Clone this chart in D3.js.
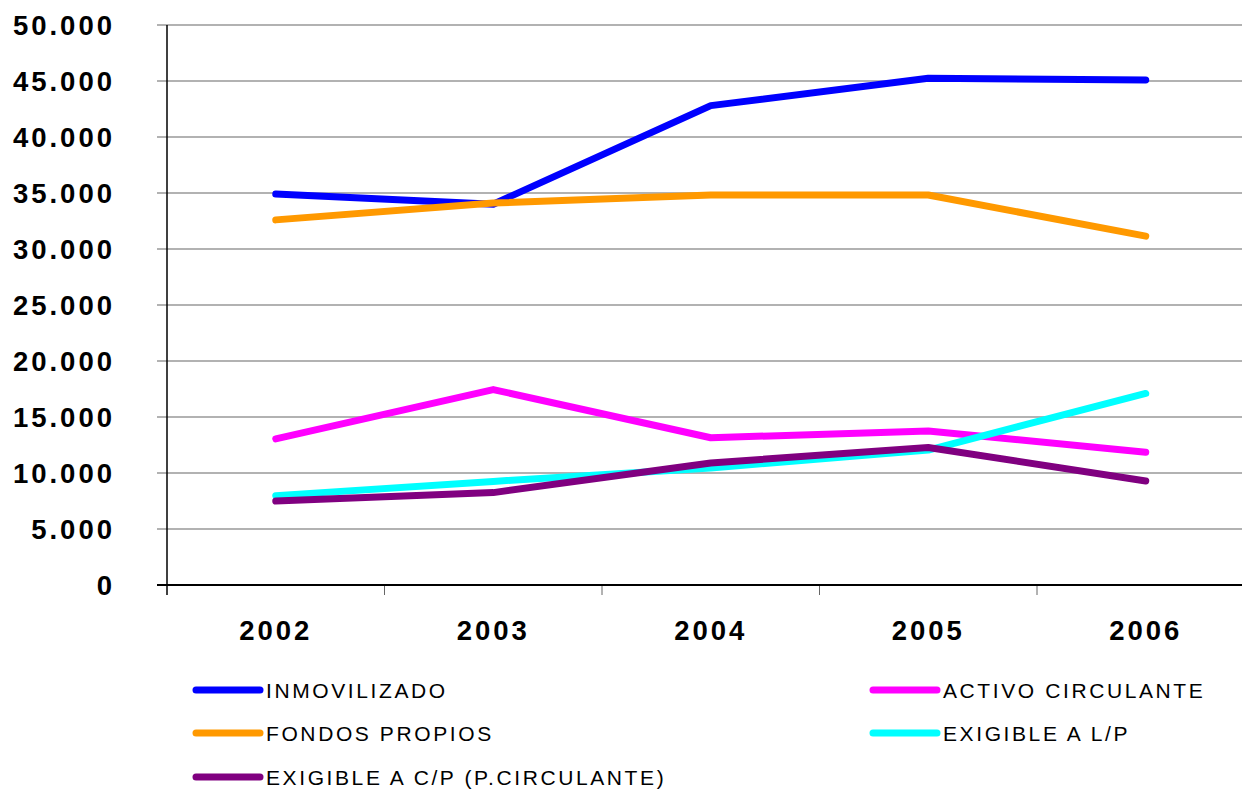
<!DOCTYPE html>
<html>
<head>
<meta charset="utf-8">
<script src="https://cdn.jsdelivr.net/npm/d3@7"></script>
<style>
  html, body { margin: 0; padding: 0; background: #fff; }
  svg { display: block; }
</style>
</head>
<body>
<svg id="chart" width="1242" height="792"></svg>
<script>
// Years on the category axis
const years = ["2002", "2003", "2004", "2005", "2006"];

// Balance sheet magnitudes per year
const inmovilizado     = [34900, 34000, 42800, 45250, 45100];
const activoCirculante = [13050, 17450, 13150, 13750, 11850];
const fondosPropios    = [32600, 34100, 34820, 34820, 31150];
const exigibleLP       = [7980, 9250, 10450, 12050, 17100];
const exigibleCP       = [7500, 8250, 10900, 12280, 9290];

const seriesNames  = ["INMOVILIZADO", "ACTIVO CIRCULANTE", "FONDOS PROPIOS", "EXIGIBLE A L/P", "EXIGIBLE A C/P (P.CIRCULANTE)"];
const seriesValues = [inmovilizado, activoCirculante, fondosPropios, exigibleLP, exigibleCP];
const seriesColors = ["#0000FF", "#FF00FF", "#FF9900", "#00FFFF", "#800080"];

// Y axis ticks
const yTicks = [0, 5000, 10000, 15000, 20000, 25000, 30000, 35000, 40000, 45000, 50000];

const svg = d3.select("#chart");
const plotLeft = 167, plotRight = 1254.5, plotTop = 25, plotBottom = 585;

const x = d3.scaleBand().domain(years).range([plotLeft, plotRight]).paddingInner(0).paddingOuter(0);
const y = d3.scaleLinear().domain([0, 50000]).range([plotBottom, plotTop]);

const fmt = v => d3.format(",")(v).replace(/,/g, ".");

// Horizontal gridlines with short outward ticks
svg.append("g").selectAll("line")
  .data(yTicks)
  .join("line")
  .attr("x1", plotLeft - 10).attr("x2", 1242)
  .attr("y1", d => y(d)).attr("y2", d => y(d))
  .attr("stroke", "#666").attr("stroke-width", 1.2);

// Y axis labels
const yAxis = d3.axisLeft(y).tickValues(yTicks).tickFormat(fmt).tickSize(0).tickPadding(0);
const yg = svg.append("g").attr("transform", "translate(115,0)").call(yAxis);
yg.select(".domain").remove();
yg.selectAll("text")
  .attr("font-family", "'Liberation Sans', Arial, sans-serif")
  .attr("font-weight", "bold")
  .attr("font-size", 27.5)
  .attr("letter-spacing", "3px")
  .attr("fill", "#000")
  .attr("dy", "0.36em");

// X axis: category boundary ticks and year labels
const xg = svg.append("g");
xg.selectAll("line.tick")
  .data(years.slice(1))
  .join("line")
  .attr("class", "tick")
  .attr("x1", d => x(d)).attr("x2", d => x(d))
  .attr("y1", plotBottom).attr("y2", plotBottom + 10)
  .attr("stroke", "#666").attr("stroke-width", 1);
xg.selectAll("text")
  .data(years)
  .join("text")
  .attr("x", d => x(d) + x.bandwidth() / 2)
  .attr("y", 640)
  .attr("text-anchor", "middle")
  .attr("font-family", "'Liberation Sans', Arial, sans-serif")
  .attr("font-weight", "bold")
  .attr("font-size", 27.5)
  .attr("letter-spacing", "3px")
  .text(d => d);

// Axis lines
svg.append("line")
  .attr("x1", plotLeft).attr("x2", plotLeft).attr("y1", plotTop).attr("y2", plotBottom + 10)
  .attr("stroke", "#000").attr("stroke-width", 1.5);
svg.append("line")
  .attr("x1", plotLeft - 10).attr("x2", 1242).attr("y1", plotBottom).attr("y2", plotBottom)
  .attr("stroke", "#000").attr("stroke-width", 2);

// Series lines
const line = d3.line()
  .x((d, i) => x(years[i]) + x.bandwidth() / 2)
  .y(d => y(d));

svg.append("g").selectAll("path")
  .data(seriesValues)
  .join("path")
  .attr("d", d => line(d))
  .attr("fill", "none")
  .attr("stroke", (d, i) => seriesColors[i])
  .attr("stroke-width", 7)
  .attr("stroke-linecap", "round")
  .attr("stroke-linejoin", "round");

// Legend, two columns
const legendPos = [
  [193, 690], [870, 690],
  [193, 733], [870, 733],
  [193, 777]
];
const lg = svg.append("g");
seriesNames.forEach((name, si) => {
  const [lx, ly] = legendPos[si];
  lg.append("line")
    .attr("x1", lx + 3).attr("x2", lx + 67)
    .attr("y1", ly).attr("y2", ly)
    .attr("stroke", seriesColors[si])
    .attr("stroke-width", 7)
    .attr("stroke-linecap", "round");
  lg.append("text")
    .attr("x", lx + 73)
    .attr("y", ly + 8)
    .attr("font-family", "'Liberation Sans', Arial, sans-serif")
    .attr("font-size", 21)
    .attr("letter-spacing", "2.6px")
    .attr("fill", "#000")
    .text(name);
});
</script>
</body>
</html>
